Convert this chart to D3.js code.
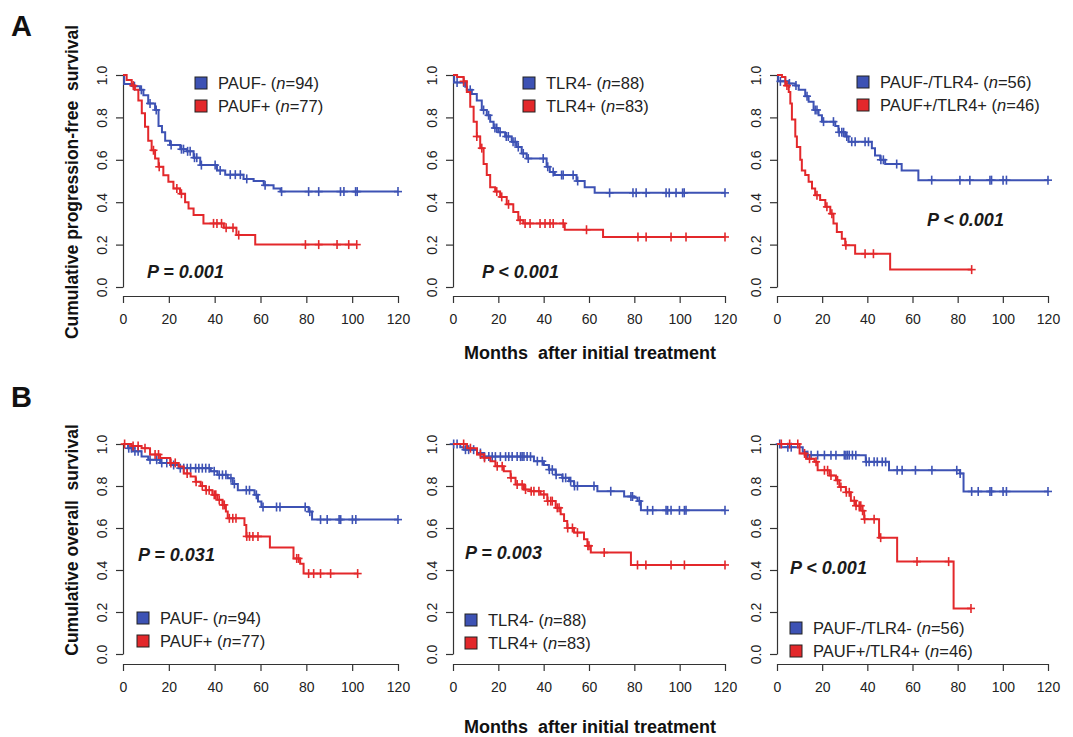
<!DOCTYPE html>
<html><head><meta charset="utf-8">
<script src="https://cdn.jsdelivr.net/npm/d3@7"></script>
<style>body{margin:0;background:#fff} svg{display:block}</style>
</head><body>
<svg id="c" width="1073" height="737"></svg>
<script>
// ---------- labels ----------
const monthTicks = [0, 20, 40, 60, 80, 100, 120];
const survTicks = [0, 0.2, 0.4, 0.6, 0.8, 1.0];
const panelLetters = ["A", "B"];
const rowYLabels = ["Cumulative progression-free  survival", "Cumulative overall  survival"];
const xTitle = "Months  after initial treatment";
const pValues = ["P = 0.001", "P < 0.001", "P < 0.001", "P = 0.031", "P = 0.003", "P < 0.001"];
const groupNames = [["PAUF-", "PAUF+"], ["TLR4-", "TLR4+"], ["PAUF-/TLR4-", "PAUF+/TLR4+"]];
const groupN = [[94, 77], [88, 83], [56, 46]];

// ---------- A: progression-free survival ----------
const pfsPaufNegTimes = [0.5, 4.5, 7.4, 8.9, 11, 14, 15.5, 17, 18.4, 20.5, 25, 27.8, 30.8, 33.7, 41, 44.6, 52.6, 57, 61.4, 65.7, 68.7];
const pfsPaufNegSurv  = [0.957, 0.947, 0.93, 0.905, 0.866, 0.835, 0.76, 0.73, 0.69, 0.67, 0.65, 0.64, 0.61, 0.575, 0.55, 0.53, 0.51, 0.50, 0.48, 0.465, 0.45];
const pfsPaufNegCensor = [5, 8, 11.8, 14.5, 21, 25.5, 26.4, 28.2, 29.3, 31.2, 32.2, 34.2, 40.2, 42.4, 46.8, 49, 51.2, 54, 62, 69.2, 81, 85.4, 94.9, 96.4, 101.5, 102.2, 120];
const pfsPaufPosTimes = [1.6, 3.8, 5.2, 6.7, 8.2, 9.6, 11, 12.5, 14, 15.5, 17.6, 19.8, 22, 24.9, 27.1, 28.6, 30.8, 35.1, 44, 49.5, 57.7];
const pfsPaufPosSurv  = [0.976, 0.95, 0.93, 0.88, 0.82, 0.756, 0.69, 0.645, 0.606, 0.567, 0.527, 0.496, 0.465, 0.44, 0.40, 0.37, 0.34, 0.30, 0.28, 0.245, 0.20];
const pfsPaufPosCensor = [4.5, 13.3, 15.8, 23.5, 25.5, 39.5, 41, 43, 45, 48, 50.5, 79.6, 85.4, 93.4, 98.5, 102];

const pfsTlrNegTimes = [0.5, 5.4, 6.1, 8.3, 10.5, 12.7, 14.9, 16.4, 17.9, 20, 23, 25.9, 28.1, 30.3, 32.5, 41.3, 42.7, 44.9, 54.5, 58.1, 62.5];
const pfsTlrNegSurv  = [0.965, 0.945, 0.93, 0.91, 0.88, 0.835, 0.81, 0.78, 0.75, 0.73, 0.71, 0.685, 0.66, 0.63, 0.606, 0.567, 0.543, 0.528, 0.50, 0.47, 0.444];
const pfsTlrNegCensor = [1.8, 4.7, 7.6, 13.5, 15.7, 18.5, 19.3, 20.8, 23.5, 24.4, 26.5, 27.4, 28.8, 31, 33.2, 39.8, 41.8, 44.2, 47.9, 48.6, 53, 55, 69.1, 79.4, 80.8, 85.2, 94, 95.4, 98.4, 101.3, 102, 120];
const pfsTlrPosTimes = [1.8, 4.7, 6.1, 7.6, 9.1, 10.5, 12, 13.5, 14.9, 16.4, 18.6, 20.8, 23.7, 26.6, 28.8, 31, 49.3, 66.2];
const pfsTlrPosSurv  = [0.99, 0.97, 0.92, 0.85, 0.78, 0.71, 0.655, 0.58, 0.528, 0.47, 0.45, 0.425, 0.39, 0.354, 0.315, 0.30, 0.27, 0.236];
const pfsTlrPosCensor = [4.7, 10.5, 12.7, 19.3, 21.5, 24.5, 29.6, 31.8, 34, 38.4, 40.6, 42.8, 44.2, 48.6, 58.9, 81.6, 85.2, 96.2, 102.8, 120];

const pfsBothNegTimes = [0.5, 5.2, 8.1, 9.6, 12.5, 14, 16.2, 18.4, 19.9, 25.8, 27.2, 30.2, 31.7, 42, 43.4, 45.7, 47.9, 55.2, 62.6];
const pfsBothNegSurv  = [0.97, 0.96, 0.95, 0.93, 0.90, 0.874, 0.835, 0.81, 0.78, 0.76, 0.73, 0.71, 0.685, 0.655, 0.62, 0.60, 0.58, 0.55, 0.504];
const pfsBothNegCensor = [1.5, 3.7, 5.5, 8.4, 13.3, 16.9, 17.7, 20.6, 25, 27.5, 28.7, 29.5, 30.9, 33.1, 34.6, 39, 40.5, 46, 47.1, 53, 68.5, 81, 85.4, 94.3, 95, 100.1, 101.6, 120];
const pfsBothPosTimes = [2.2, 3.7, 5.2, 5.9, 6.6, 8.1, 8.8, 10.3, 11, 12.5, 14, 15.5, 16.9, 19.1, 21.4, 23.6, 25, 26.5, 28.7, 30.2, 34.6, 50.1];
const pfsBothPosSurv  = [0.99, 0.95, 0.92, 0.866, 0.79, 0.71, 0.66, 0.60, 0.55, 0.528, 0.496, 0.465, 0.433, 0.41, 0.378, 0.346, 0.30, 0.26, 0.228, 0.197, 0.157, 0.082];
const pfsBothPosCensor = [4.4, 17.7, 22.1, 24.3, 30.5, 39, 42.7, 86.2];

// ---------- B: overall survival ----------
const osPaufNegTimes = [2.2, 4.4, 8.1, 11, 16.2, 20.6, 24.3, 38.3, 41.2, 45.7, 47.9, 50.1, 57.4, 58.9, 60.4, 81, 82.5];
const osPaufNegSurv  = [0.98, 0.965, 0.94, 0.925, 0.91, 0.90, 0.885, 0.87, 0.853, 0.837, 0.81, 0.78, 0.758, 0.726, 0.70, 0.678, 0.64];
const osPaufNegCensor = [2.5, 3.7, 5.2, 6.6, 11.8, 14.7, 16.9, 19.1, 22.1, 25, 26.5, 28, 29.5, 31.7, 33.1, 34.6, 36.1, 37.6, 39.8, 42, 43.4, 44.9, 47.1, 48.6, 53.8, 55.2, 58.2, 61.1, 67, 68.5, 79.5, 81.5, 86.2, 89.1, 94.3, 95, 100.1, 101.6, 120];
const osPaufPosTimes = [3.7, 8.1, 11.8, 16.2, 20.6, 24.3, 26.5, 29.5, 31.7, 33.9, 36.1, 39, 41.2, 43.4, 44.9, 45.7, 53, 53.8, 64.1, 74.4, 77.3, 78.8];
const osPaufPosSurv  = [0.99, 0.98, 0.95, 0.933, 0.91, 0.893, 0.86, 0.845, 0.82, 0.80, 0.78, 0.758, 0.734, 0.71, 0.678, 0.646, 0.614, 0.56, 0.507, 0.455, 0.43, 0.383];
const osPaufPosCensor = [0.7, 4.4, 6.6, 9.6, 14, 15.5, 20.9, 22.8, 28, 31.9, 34.6, 36.3, 37.6, 39.8, 40.5, 42, 43.6, 44.2, 46.4, 47.9, 49.3, 54, 55.2, 56.7, 58.9, 75.8, 76.6, 81, 83.2, 86.2, 90.6, 102.4];

const osTlrNegTimes = [3.2, 4.7, 10.6, 13.6, 35.7, 40.1, 42.3, 45.3, 48.2, 51.2, 53.4, 63.7, 75.5, 79.9, 81.4, 82.9];
const osTlrNegSurv  = [0.985, 0.973, 0.957, 0.94, 0.918, 0.90, 0.878, 0.854, 0.839, 0.823, 0.80, 0.775, 0.75, 0.744, 0.728, 0.684];
const osTlrNegCensor = [0.3, 1.8, 5.5, 6.9, 9.1, 12.1, 13.9, 15.8, 17.3, 18.7, 20.9, 23.2, 24.6, 26.1, 28.3, 29.8, 30.5, 31.3, 32.7, 34.2, 37.2, 39.4, 42.5, 43.8, 45.5, 48.4, 49.7, 51.9, 53.6, 54.9, 62.2, 69.6, 78.5, 79.2, 82.2, 85.8, 88.1, 94, 94.7, 96.2, 99.9, 102.1, 102.8, 120];
const osTlrPosTimes = [6.2, 10.6, 13.6, 16.5, 18.7, 22.4, 25.4, 27.6, 31.3, 34.2, 38.6, 41.6, 45.3, 47.5, 49, 50.4, 53.4, 57.8, 59.3, 60.8, 78.5];
const osTlrPosSurv  = [0.98, 0.95, 0.934, 0.918, 0.894, 0.87, 0.839, 0.807, 0.783, 0.775, 0.76, 0.728, 0.696, 0.665, 0.633, 0.60, 0.578, 0.546, 0.515, 0.483, 0.424];
const osTlrPosCensor = [4.7, 7.7, 12.1, 13.9, 19.5, 21.7, 25.6, 28.3, 30.5, 32, 34.5, 35.7, 37.9, 40.1, 41.8, 43.1, 43.8, 46, 46.8, 50.6, 52.7, 54.9, 59.5, 60, 66.7, 81.4, 85.1, 96.2, 102.1, 120];

const osBothNegTimes = [1.9, 11.4, 12.9, 39.3, 49.6, 81.1, 82.6];
const osBothNegSurv  = [0.985, 0.963, 0.947, 0.915, 0.875, 0.86, 0.774];
const osBothNegCensor = [1.2, 4.8, 6.3, 13.6, 15.1, 18, 21, 23.9, 26.1, 29.8, 30.5, 31.2, 32, 33.4, 34.9, 39.5, 40.8, 43, 44.4, 46.6, 48.1, 53.2, 55.4, 61.3, 68.6, 79.6, 81.1, 86.2, 89.1, 94.3, 95, 100.1, 101.6, 120];
const osBothPosTimes = [10, 12.9, 16.6, 18, 23.2, 26.1, 27.6, 30.5, 32.7, 34.9, 37.8, 38.6, 45.2, 53.2, 78.2];
const osBothPosSurv  = [0.955, 0.93, 0.915, 0.875, 0.85, 0.827, 0.795, 0.77, 0.73, 0.706, 0.682, 0.642, 0.554, 0.44, 0.217];
const osBothPosCensor = [1.9, 5.6, 9.2, 12.2, 14.4, 17.3, 21, 22.4, 23.9, 26.8, 28.3, 30.7, 32, 34.2, 35, 36.4, 37.1, 37.9, 38.8, 43, 45.9, 62, 76, 85.9];

const panelCurves = [
  [[pfsPaufNegTimes, pfsPaufNegSurv, pfsPaufNegCensor], [pfsPaufPosTimes, pfsPaufPosSurv, pfsPaufPosCensor]],
  [[pfsTlrNegTimes, pfsTlrNegSurv, pfsTlrNegCensor], [pfsTlrPosTimes, pfsTlrPosSurv, pfsTlrPosCensor]],
  [[pfsBothNegTimes, pfsBothNegSurv, pfsBothNegCensor], [pfsBothPosTimes, pfsBothPosSurv, pfsBothPosCensor]],
  [[osPaufNegTimes, osPaufNegSurv, osPaufNegCensor], [osPaufPosTimes, osPaufPosSurv, osPaufPosCensor]],
  [[osTlrNegTimes, osTlrNegSurv, osTlrNegCensor], [osTlrPosTimes, osTlrPosSurv, osTlrPosCensor]],
  [[osBothNegTimes, osBothNegSurv, osBothNegCensor], [osBothPosTimes, osBothPosSurv, osBothPosCensor]]
];

// ---------- layout ----------
const FONT = "Arial, 'Liberation Sans', Helvetica, sans-serif";
const COLORS = ["#3d52b4", "#e3282b"];
const colX = [[123, 398], [453, 725], [777, 1048]];
const rowY = [[287, 75, 296], [654, 444, 664]]; // y(0), y(1), x-axis line
const legendPos = [[195, 83], [523, 83], [857, 82], [137, 618], [465, 620], [790, 628]];
const pPos = [[147, 272], [482, 272], [927, 220], [138, 555], [465, 553], [790, 568]];

const svg = d3.select("#c");
svg.append("rect").attr("width", 1073).attr("height", 737).attr("fill", "#fff");

function stepAt(times, surv, t) {
  let s = 1;
  for (let i = 0; i < times.length; i++) if (times[i] <= t) s = surv[i];
  return s;
}

for (let p = 0; p < 6; p++) {
  const row = Math.floor(p / 3), col = p % 3;
  const x = d3.scaleLinear().domain([0, 120]).range(colX[col]);
  const y = d3.scaleLinear().domain([0, 1]).range([rowY[row][0], rowY[row][1]]);
  const g = svg.append("g");

  // y axis
  const yAxis = d3.axisLeft(y).tickValues(survTicks).tickFormat(d3.format(".1f")).tickSize(7).tickSizeOuter(0);
  const ya = g.append("g").attr("transform", `translate(${colX[col][0]},0)`).call(yAxis);
  ya.select(".domain").attr("stroke", "#333").attr("stroke-width", 1.2);
  ya.selectAll(".tick line").attr("stroke", "#333").attr("stroke-width", 1.2);
  ya.selectAll(".tick text")
    .attr("font-family", FONT).attr("font-size", 14).attr("fill", "#222")
    .attr("x", 0).attr("dy", null)
    .attr("text-anchor", "middle")
    .attr("transform", "translate(-21,0) rotate(-90)")
    .attr("dominant-baseline", "central");

  // x axis
  const xAxis = d3.axisBottom(x).tickValues(monthTicks).tickFormat(d3.format("d")).tickSize(7).tickSizeOuter(0);
  const xa = g.append("g").attr("transform", `translate(0,${rowY[row][2]})`).call(xAxis);
  xa.select(".domain").attr("stroke", "#333").attr("stroke-width", 1.2);
  xa.selectAll(".tick line").attr("stroke", "#333").attr("stroke-width", 1.2);
  xa.selectAll(".tick text").attr("font-family", FONT).attr("font-size", 14).attr("fill", "#222").attr("y", 18).attr("dy", "0.71em");

  // curves
  panelCurves[p].forEach((c, k) => {
    const [times, surv, cens] = c;
    const end = Math.max(d3.max(cens), d3.max(times));
    const pts = [[0, 1]];
    times.forEach((t, i) => { pts.push([t, surv[i]]); });
    pts.push([end, surv[surv.length - 1]]);
    const line = d3.line().x(d => x(d[0])).y(d => y(d[1])).curve(d3.curveStepAfter);
    g.append("path").attr("d", line(pts)).attr("fill", "none")
      .attr("stroke", COLORS[k]).attr("stroke-width", 2);
    const m = g.append("g").attr("stroke", COLORS[k]).attr("stroke-width", 1.6);
    cens.forEach(t => {
      const cx = x(t), cy = y(stepAt(times, surv, t));
      m.append("line").attr("x1", cx).attr("x2", cx).attr("y1", cy - 4.5).attr("y2", cy + 4.5);
      m.append("line").attr("x1", cx - 4).attr("x2", cx + 4).attr("y1", cy).attr("y2", cy);
    });
  });

  // legend
  const [lx, ly] = legendPos[p];
  const gi = p % 3;
  [0, 1].forEach(k => {
    const yy = ly + k * 23;
    g.append("rect").attr("x", lx).attr("y", yy - 6).attr("width", 12).attr("height", 12)
      .attr("fill", COLORS[k]).attr("stroke", "#222").attr("stroke-width", 1);
    const t = g.append("text").attr("x", lx + 23).attr("y", yy).attr("dominant-baseline", "central")
      .attr("font-family", FONT).attr("font-size", 16.5).attr("fill", "#222");
    t.append("tspan").text(groupNames[gi][k] + " (");
    t.append("tspan").attr("font-style", "italic").text("n");
    t.append("tspan").text("=" + groupN[gi][k] + ")");
  });

  // p value
  g.append("text").attr("x", pPos[p][0]).attr("y", pPos[p][1]).attr("dominant-baseline", "central")
    .attr("font-family", FONT).attr("font-size", 18).attr("font-weight", "bold").attr("font-style", "italic")
    .attr("fill", "#1a1a1a").text(pValues[p]);
}

// row labels, titles
const letterY = [36, 407];
const yLabelC = [182, 540];
const titleY = [353, 727];
[0, 1].forEach(r => {
  svg.append("text").attr("x", 11).attr("y", letterY[r]).attr("font-family", FONT)
    .attr("font-size", 29).attr("font-weight", "bold").attr("fill", "#111").text(panelLetters[r]);
  svg.append("text").attr("transform", `translate(72,${yLabelC[r]}) rotate(-90)`)
    .attr("text-anchor", "middle").attr("dominant-baseline", "central")
    .attr("font-family", FONT).attr("font-size", 17.5).attr("font-weight", "bold").attr("fill", "#111")
    .style("white-space", "pre").text(rowYLabels[r]);
  svg.append("text").attr("x", 590).attr("y", titleY[r]).attr("text-anchor", "middle").attr("dominant-baseline", "central")
    .attr("font-family", FONT).attr("font-size", 18).attr("font-weight", "bold").attr("fill", "#111")
    .style("white-space", "pre").text(xTitle);
});
</script>
</body></html>
